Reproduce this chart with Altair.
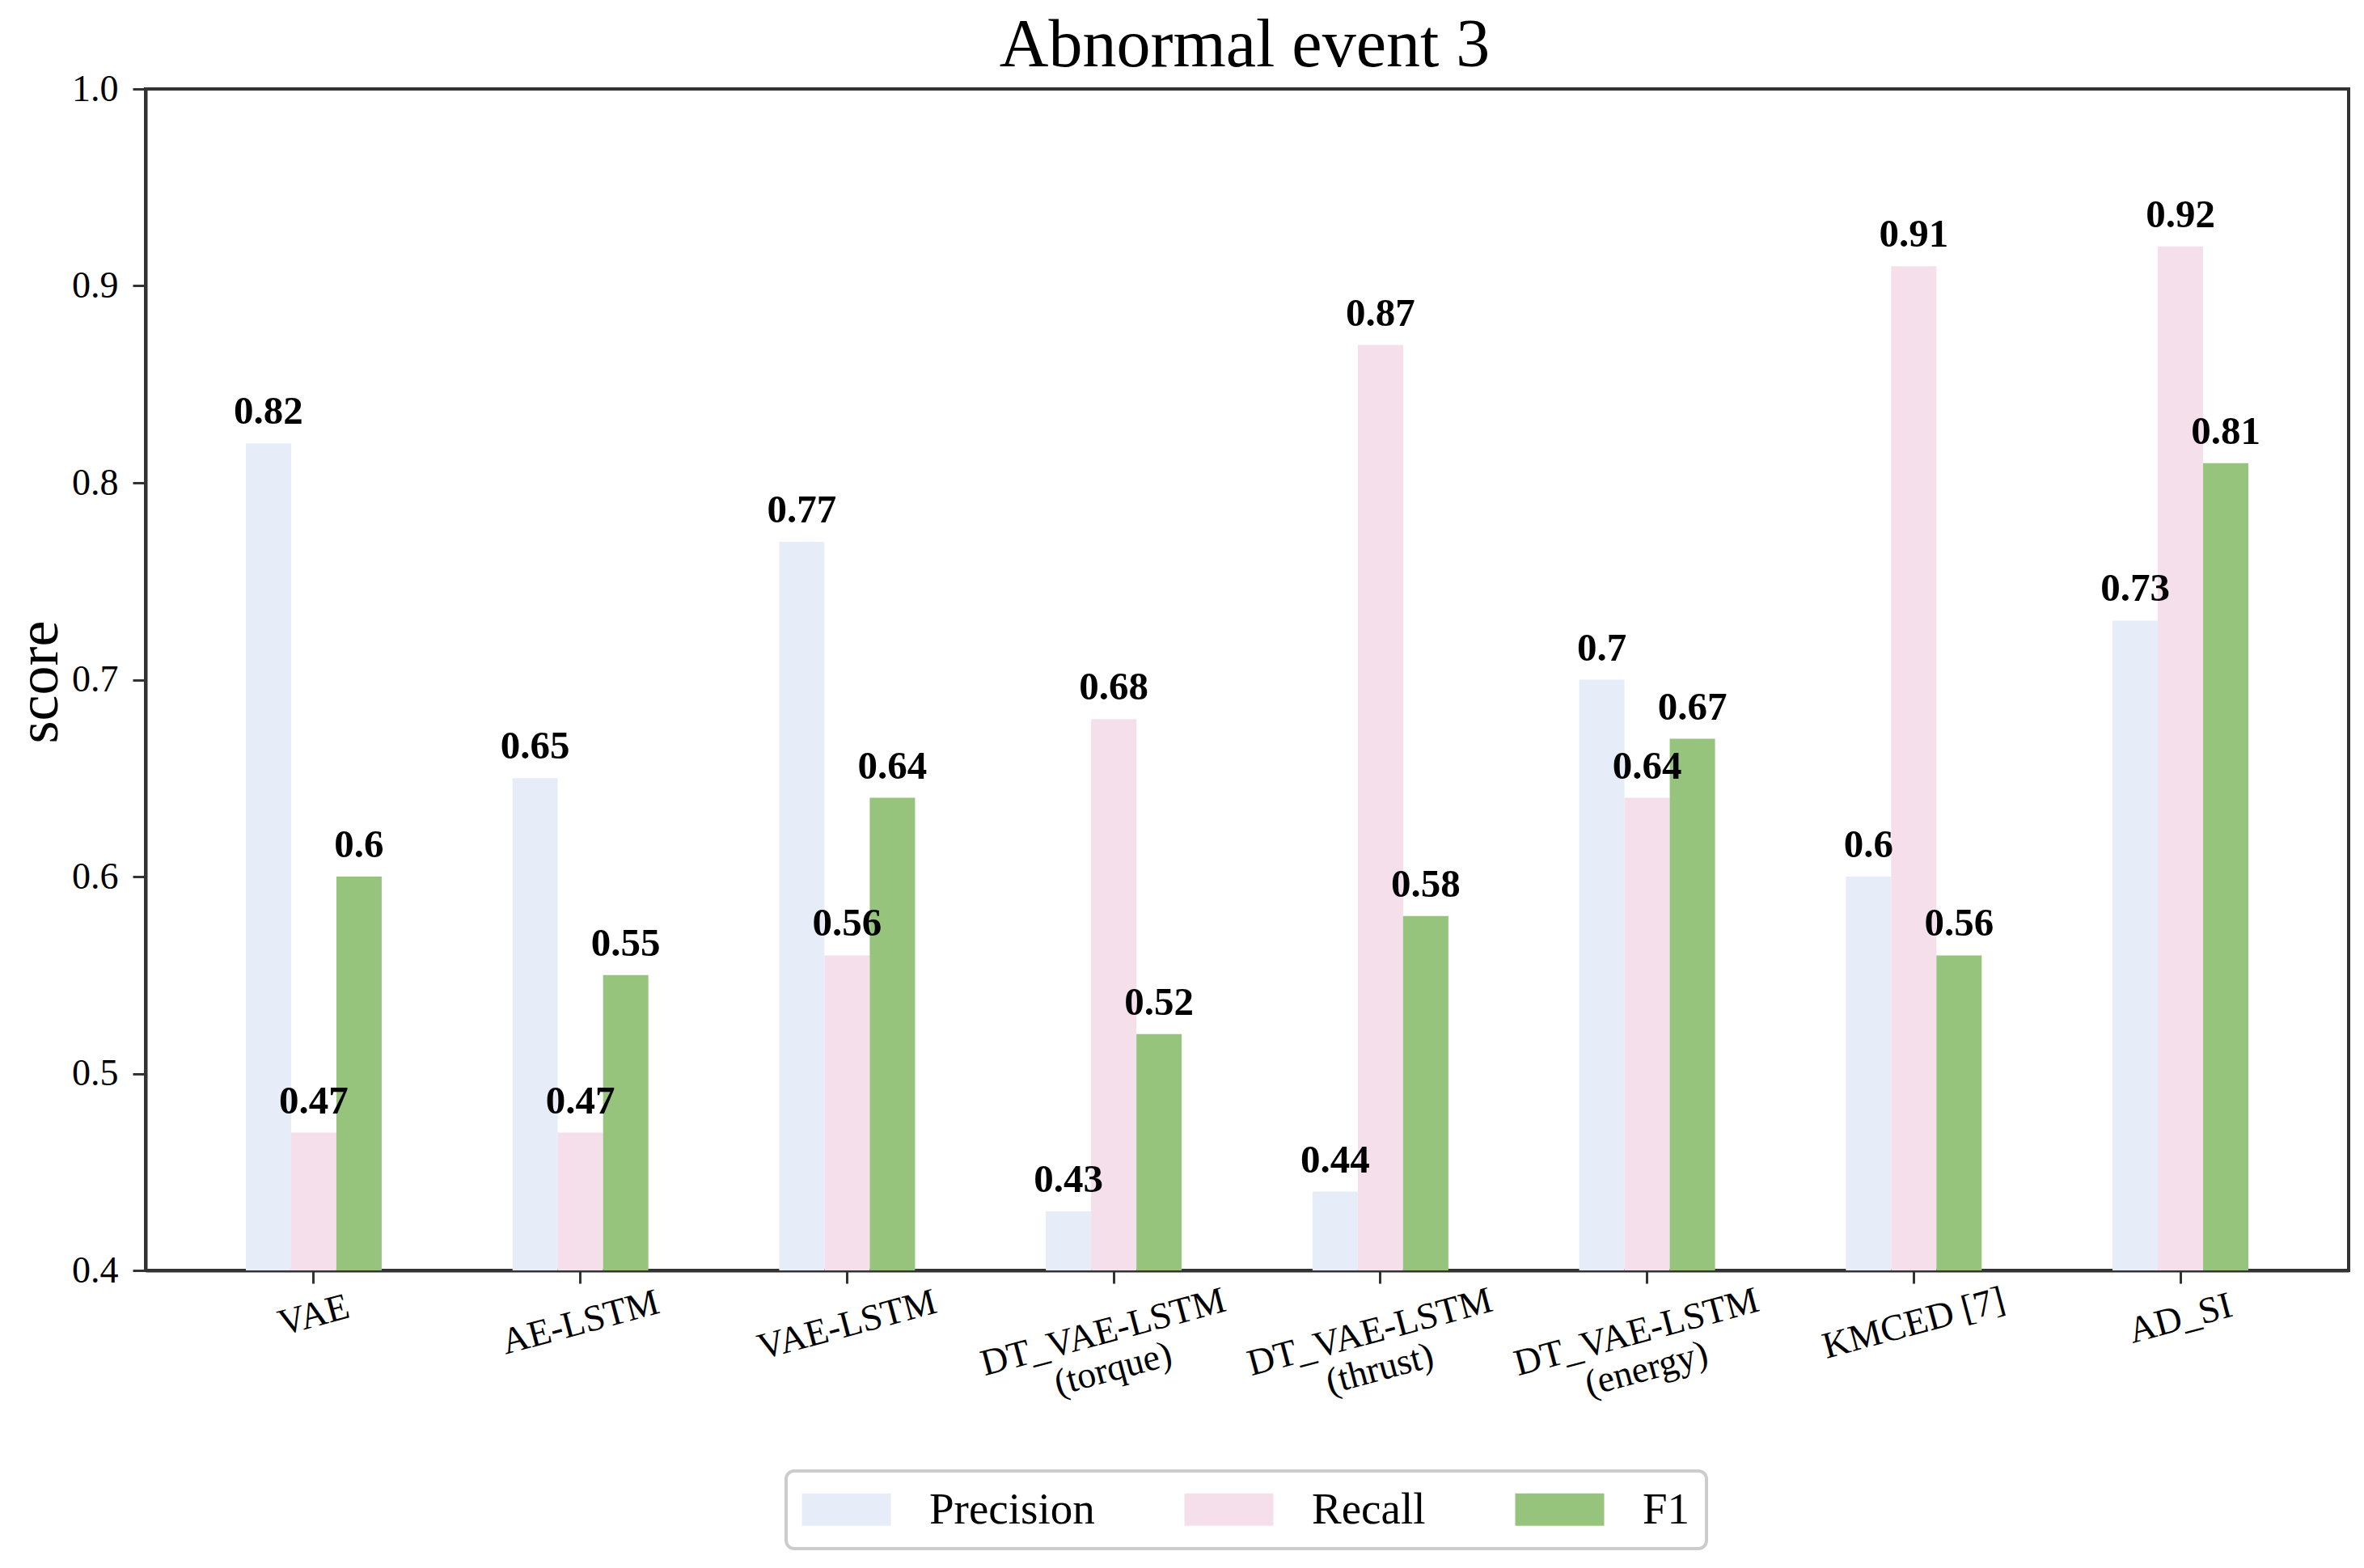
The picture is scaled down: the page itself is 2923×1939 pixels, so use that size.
import altair as alt
import pandas as pd

chart_title = ["Abnormal event 3"]
methods = ["VAE", "AE-LSTM", "VAE-LSTM", "DT_VAE-LSTM\n(torque)", "DT_VAE-LSTM\n(thrust)",
           "DT_VAE-LSTM\n(energy)", "KMCED [7]", "AD_SI"]
precision = [0.82, 0.65, 0.77, 0.43, 0.44, 0.70, 0.60, 0.73]
recall = [0.47, 0.47, 0.56, 0.68, 0.87, 0.64, 0.91, 0.92]
f1 = [0.60, 0.55, 0.64, 0.52, 0.58, 0.67, 0.56, 0.81]
metrics = ["Precision", "Recall", "F1"]
colors = ["#e6edf8", "#f5dfeb", "#96c47d"]
y_ticks = [0.4, 0.5, 0.6, 0.7, 0.8, 0.9, 1.0]

rows = []
for m, p, r, f in zip(methods, precision, recall, f1):
    for name, v in zip(metrics, [p, r, f]):
        rows.append({"method": m, "metric": name, "score": v, "label": f"{v:g}"})
df = pd.DataFrame(rows)
title_df = pd.DataFrame({"title": chart_title})

FONT = "Liberation Serif"

pad_expr = ("datum.value == 'VAE' ? 39 : datum.value == 'AE-LSTM' ? 48 : "
            "datum.value == 'VAE-LSTM' ? 51 : datum.value == 'KMCED [7]' ? 49 : "
            "datum.value == 'AD_SI' ? 43 : 60")
off_expr = "indexof(datum.value, '(') >= 0 ? -13 : 0"

x_enc = alt.X(
    "method:N", sort=methods,
    scale=alt.Scale(paddingInner=0.4906, paddingOuter=0.376),
    axis=alt.Axis(title=None, labelAngle=-15, labelAlign="center", labelBaseline="middle",
                  labelFontSize=46, labelLineHeight=47,
                  labelExpr="split(datum.label, '\\n')",
                  labelPadding=alt.ExprRef(pad_expr), labelOffset=alt.ExprRef(off_expr),
                  tickSize=16, bandPosition=0.5, labelLimit=0, labelOverlap=False),
)
xoff = alt.XOffset("metric:N", sort=metrics, scale=alt.Scale(paddingInner=0, paddingOuter=0))
y_enc = alt.Y(
    "score:Q",
    scale=alt.Scale(domain=[0.4, 1.0], zero=False, nice=False),
    axis=alt.Axis(values=y_ticks, format=".1f", title="score", titleX=-110, titleY=733,
                  titleBaseline="alphabetic", titleAlign="center", titleFontSize=72,
                  titleFontWeight="normal", labelFontSize=46, labelPadding=18, tickSize=16,
                  grid=False, labelBaseline="middle"),
)

bars = alt.Chart(df).mark_bar(clip=True).encode(
    x=x_enc,
    xOffset=xoff,
    y=y_enc,
    y2=alt.datum(0.4),
    color=alt.Color(
        "metric:N", sort=metrics,
        scale=alt.Scale(domain=metrics, range=colors),
        legend=alt.Legend(title=None, orient="none", legendX=792, legendY=1709,
                          direction="horizontal", columns=3,
                          symbolType="M-1.4,-1H4.1V1H-1.4Z", symbolSize=1600,
                          symbolStrokeWidth=0, symbolOpacity=1,
                          labelFontSize=55, labelFont=FONT, labelColor="black",
                          labelOffset=102, columnPadding=110, padding=20, labelLimit=0,
                          strokeColor="#cccccc", cornerRadius=10, fillColor="white",
                          labelBaseline="middle"),
    ),
)

texts = alt.Chart(df).mark_text(
    font=FONT, fontWeight="bold", fontSize=49, baseline="alphabetic", align="center",
    dy=-24, color="black",
).encode(
    x=alt.X("method:N", sort=methods),
    xOffset=alt.XOffset("metric:N", sort=metrics),
    y=alt.Y("score:Q"),
    text="label:N",
)

title_mark = alt.Chart(title_df).mark_text(
    font=FONT, fontSize=84, baseline="alphabetic", align="center", color="black",
).encode(
    text="title:N",
    x=alt.value(1359),
    y=alt.value(-28),
)

chart = alt.layer(bars, texts, title_mark).properties(
    width=2724,
    height=1461,
    autosize=alt.AutoSizeParams(type="none"),
    padding={"left": 172, "top": 102, "right": 10, "bottom": 350},
).configure(
    font=FONT,
).configure_view(
    stroke="#333333", strokeWidth=4,
).configure_axis(
    domainColor="#333333", domainWidth=4, tickColor="#333333", tickWidth=3,
    labelColor="black", labelFont=FONT, titleFont=FONT, titleColor="black",
).configure_legend(
    strokeWidth=4,
)

chart.save("out.html", embed_options={"renderer": "svg", "actions": False})
